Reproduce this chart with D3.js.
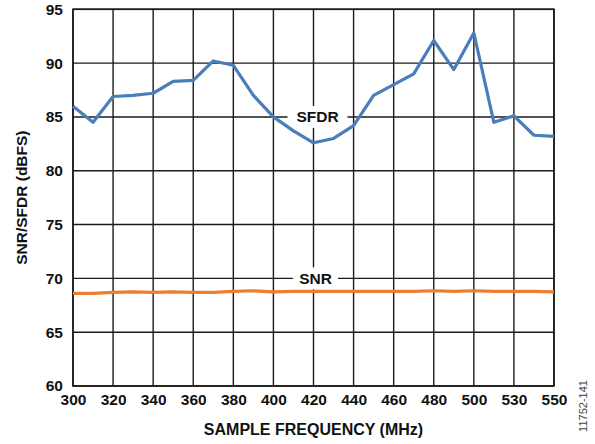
<!DOCTYPE html>
<html><head><meta charset="utf-8">
<script src="https://cdn.jsdelivr.net/npm/d3@7"></script>
<style>
body{margin:0;background:#fff;}
svg{display:block;font-family:"Liberation Sans",Arial,sans-serif;}
</style></head>
<body><svg id="c" width="595" height="444"></svg>
<script>
const xTicks = [300,320,340,360,380,400,420,440,460,480,500,530,550];
const yTicks = [60,65,70,75,80,85,90,95];
const freq = [300,310,320,330,340,350,360,370,380,390,400,410,420,430,440,450,460,470,480,490,500,515,530,540,550];
const sfdr = [86.0,84.5,86.9,87.0,87.2,88.3,88.4,90.2,89.8,87.0,85.0,83.7,82.6,83.0,84.2,87.0,88.0,89.0,92.1,89.4,92.8,84.5,85.1,83.3,83.2];
const snr  = [68.6,68.6,68.7,68.75,68.7,68.75,68.7,68.7,68.8,68.85,68.75,68.8,68.8,68.8,68.8,68.8,68.8,68.8,68.85,68.8,68.85,68.8,68.8,68.8,68.75];

const L=73, R=554, T=9.3, B=386;
const svg=d3.select("#c");
const step=(R-L)/(xTicks.length-1);
const x=d3.scaleLinear().domain(xTicks).range(xTicks.map((d,i)=>L+i*step));
const y=d3.scaleLinear().domain([60,95]).range([B,T]);

const g=svg.append("g");
g.selectAll(".vg").data(xTicks).join("line")
 .attr("x1",d=>x(d)).attr("x2",d=>x(d)).attr("y1",T).attr("y2",B)
 .attr("stroke","#1a1a1a").attr("stroke-width",1.4);
g.selectAll(".hg").data(yTicks).join("line").attr("class","hg")
 .attr("x1",L).attr("x2",R).attr("y1",d=>y(d)).attr("y2",d=>y(d))
 .attr("stroke","#1a1a1a").attr("stroke-width",1.4);
g.append("rect").attr("x",L).attr("y",T).attr("width",R-L).attr("height",B-T)
 .attr("fill","none").attr("stroke","#1a1a1a").attr("stroke-width",1.6);

function label(txt,xv,yv,w){
  const cx=x(xv), cy=y(yv);
  svg.append("rect").attr("x",cx-w/2).attr("y",cy-11).attr("width",w).attr("height",22).attr("fill","#fff");
  svg.append("text").attr("x",cx).attr("y",cy+5.5).attr("text-anchor","middle")
   .attr("font-size",15.5).attr("font-weight","bold").attr("fill","#111").text(txt);
}
label("SFDR",422,85,60);
label("SNR",421,70,45);

const line=d3.line().x((d,i)=>x(freq[i])).y(d=>y(d));
svg.append("path").datum(snr).attr("d",line).attr("fill","none")
 .attr("stroke","#ed7d31").attr("stroke-width",3.2).attr("stroke-linejoin","round");
svg.append("path").datum(sfdr).attr("d",line).attr("fill","none")
 .attr("stroke","#4a7ebb").attr("stroke-width",3.2).attr("stroke-linejoin","round");

const xa=d3.axisBottom(x).tickValues(xTicks).tickSize(0).tickPadding(8);
const ax=svg.append("g").attr("transform",`translate(0,${B})`).call(xa);
ax.select(".domain").remove();
ax.selectAll("text").attr("font-size",15.5).attr("font-weight","bold").attr("fill","#111")
  .attr("font-family","Liberation Sans, Arial, sans-serif");
const ya=d3.axisLeft(y).tickValues(yTicks).tickSize(0).tickPadding(10);
const ay=svg.append("g").attr("transform",`translate(${L},0)`).call(ya);
ay.select(".domain").remove();
ay.selectAll("text").attr("font-size",15.5).attr("font-weight","bold").attr("fill","#111")
  .attr("font-family","Liberation Sans, Arial, sans-serif");

svg.append("text").attr("x",(L+R)/2).attr("y",435).attr("text-anchor","middle")
 .attr("font-size",16).attr("font-weight","bold").attr("fill","#111").text("SAMPLE FREQUENCY (MHz)");
svg.append("text").attr("transform",`translate(27,${(T+B)/2}) rotate(-90)`).attr("text-anchor","middle")
 .attr("font-size",15.5).attr("font-weight","bold").attr("fill","#111").text("SNR/SFDR (dBFS)");
svg.append("text").attr("transform",`translate(587,406) rotate(-90)`).attr("text-anchor","middle")
 .attr("font-size",11).attr("fill","#444").text("11752-141");
</script></body></html>
